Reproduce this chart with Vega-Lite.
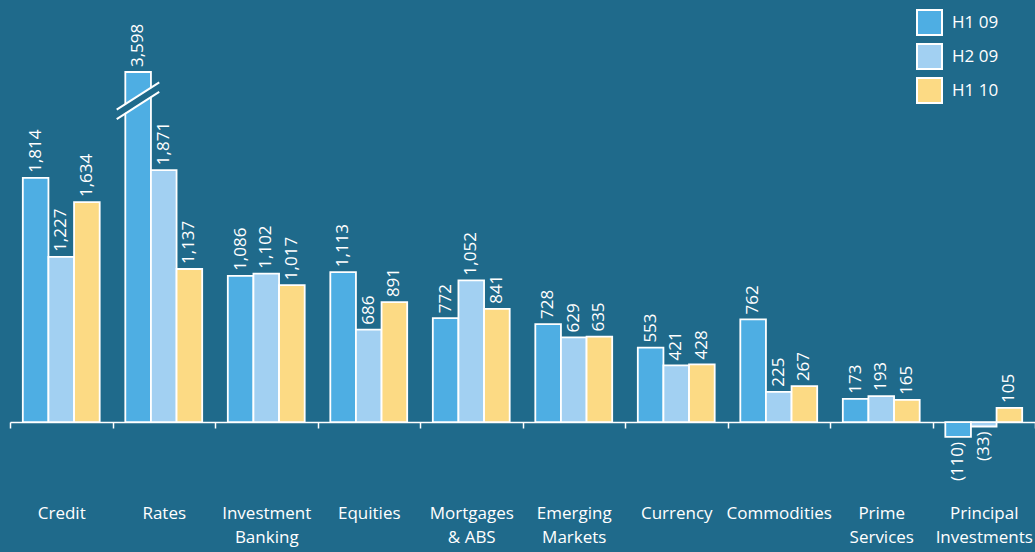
{
  "$schema": "https://vega.github.io/schema/vega-lite/v6.json",
  "width": 1025,
  "height": 377,
  "autosize": {"type": "none"},
  "padding": {"left": 10, "top": 72, "right": 0, "bottom": 103},
  "background": "#1F6A8B",
  "config": {"view": {"stroke": null}, "font": "Open Sans"},
  "data": {
    "values": [
      {"cat": "Credit", "series": "H1 09", "value": 1814},
      {"cat": "Credit", "series": "H2 09", "value": 1227},
      {"cat": "Credit", "series": "H1 10", "value": 1634},
      {"cat": "Rates", "series": "H1 09", "value": 3598},
      {"cat": "Rates", "series": "H2 09", "value": 1871},
      {"cat": "Rates", "series": "H1 10", "value": 1137},
      {"cat": "Investment Banking", "series": "H1 09", "value": 1086},
      {"cat": "Investment Banking", "series": "H2 09", "value": 1102},
      {"cat": "Investment Banking", "series": "H1 10", "value": 1017},
      {"cat": "Equities", "series": "H1 09", "value": 1113},
      {"cat": "Equities", "series": "H2 09", "value": 686},
      {"cat": "Equities", "series": "H1 10", "value": 891},
      {"cat": "Mortgages & ABS", "series": "H1 09", "value": 772},
      {"cat": "Mortgages & ABS", "series": "H2 09", "value": 1052},
      {"cat": "Mortgages & ABS", "series": "H1 10", "value": 841},
      {"cat": "Emerging Markets", "series": "H1 09", "value": 728},
      {"cat": "Emerging Markets", "series": "H2 09", "value": 629},
      {"cat": "Emerging Markets", "series": "H1 10", "value": 635},
      {"cat": "Currency", "series": "H1 09", "value": 553},
      {"cat": "Currency", "series": "H2 09", "value": 421},
      {"cat": "Currency", "series": "H1 10", "value": 428},
      {"cat": "Commodities", "series": "H1 09", "value": 762},
      {"cat": "Commodities", "series": "H2 09", "value": 225},
      {"cat": "Commodities", "series": "H1 10", "value": 267},
      {"cat": "Prime Services", "series": "H1 09", "value": 173},
      {"cat": "Prime Services", "series": "H2 09", "value": 193},
      {"cat": "Prime Services", "series": "H1 10", "value": 165},
      {"cat": "Principal Investments", "series": "H1 09", "value": -110},
      {"cat": "Principal Investments", "series": "H2 09", "value": -33},
      {"cat": "Principal Investments", "series": "H1 10", "value": 105}
    ]
  },
  "encoding": {
    "x": {
      "field": "cat",
      "type": "nominal",
      "sort": null,
      "scale": {"paddingInner": 0, "paddingOuter": 0},
      "axis": {
        "title": null,
        "labelAngle": 0,
        "labelColor": "white",
        "labelFontSize": 17,
        "labelFont": "Open Sans",
        "labelPadding": 77,
        "labelLineHeight": 24,
        "labelLimit": 300,
        "labelExpr": "!isString(datum.value) ? '' : datum.value == 'Mortgages & ABS' ? ['Mortgages', '& ABS'] : split(datum.value, ' ')",
        "domainColor": "white",
        "domainWidth": 1.5,
        "tickColor": "white",
        "tickSize": 6,
        "tickWidth": 1.5,
        "tickBand": "extent",
        "offset": -27
      }
    },
    "y": {
      "field": "value",
      "type": "quantitative",
      "scale": {"domain": [-200, 2600], "clamp": true, "nice": false, "zero": false},
      "axis": null
    }
  },
  "layer": [
    {
      "mark": {"type": "bar", "stroke": "white", "strokeWidth": 1.8},
      "encoding": {
        "xOffset": {"field": "series", "type": "nominal", "sort": ["H1 09", "H2 09", "H1 10"], "scale": {"paddingInner": 0, "paddingOuter": 0.5}},
        "color": {
          "field": "series",
          "type": "nominal",
          "sort": ["H1 09", "H2 09", "H1 10"],
          "scale": {"domain": ["H1 09", "H2 09", "H1 10"], "range": ["#4EAEE3", "#A2D0F2", "#FCDA84"]},
          "legend": {
            "title": null,
            "orient": "none",
            "legendX": 906,
            "legendY": -63,
            "padding": 0,
            "symbolType": "square",
            "symbolSize": 625,
            "symbolStrokeColor": "white",
            "symbolStrokeWidth": 2,
            "symbolOpacity": 1,
            "labelColor": "white",
            "labelFontSize": 17,
            "labelFont": "Open Sans",
            "labelOffset": 9,
            "rowPadding": 1
          }
        }
      }
    },
    {
      "transform": [{"filter": "datum.value >= 0"}],
      "mark": {"type": "text", "angle": 270, "align": "left", "baseline": "middle", "dx": 5, "color": "white", "fontSize": 17, "font": "Open Sans"},
      "encoding": {
        "xOffset": {"field": "series", "type": "nominal", "sort": ["H1 09", "H2 09", "H1 10"], "scale": {"paddingInner": 0, "paddingOuter": 0.5}},
        "text": {"field": "value", "type": "quantitative", "format": "(,d"}
      }
    },
    {
      "transform": [{"filter": "datum.value < 0"}],
      "mark": {"type": "text", "angle": 270, "align": "right", "baseline": "middle", "dx": -5, "color": "white", "fontSize": 17, "font": "Open Sans"},
      "encoding": {
        "xOffset": {"field": "series", "type": "nominal", "sort": ["H1 09", "H2 09", "H1 10"], "scale": {"paddingInner": 0, "paddingOuter": 0.5}},
        "text": {"field": "value", "type": "quantitative", "format": "(,d"}
      }
    },
    {
      "transform": [{"filter": "datum.cat == 'Rates' && datum.series == 'H1 09'"}],
      "mark": {"type": "rule", "color": "#1F6A8B", "strokeWidth": 7, "strokeCap": "butt"},
      "encoding": {
        "x": {"field": "cat", "type": "nominal", "sort": null, "bandPosition": 0.041},
        "x2": {"field": "cat", "bandPosition": 0.456},
        "y": {"datum": 2285},
        "y2": {"datum": 2488}
      }
    },
    {
      "transform": [{"filter": "datum.cat == 'Rates' && datum.series == 'H1 09'"}],
      "mark": {"type": "rule", "color": "white", "strokeWidth": 2, "strokeCap": "butt"},
      "encoding": {
        "x": {"field": "cat", "type": "nominal", "sort": null, "bandPosition": 0.041},
        "x2": {"field": "cat", "bandPosition": 0.456},
        "y": {"datum": 2320},
        "y2": {"datum": 2523}
      }
    },
    {
      "transform": [{"filter": "datum.cat == 'Rates' && datum.series == 'H1 09'"}],
      "mark": {"type": "rule", "color": "white", "strokeWidth": 2, "strokeCap": "butt"},
      "encoding": {
        "x": {"field": "cat", "type": "nominal", "sort": null, "bandPosition": 0.041},
        "x2": {"field": "cat", "bandPosition": 0.456},
        "y": {"datum": 2250},
        "y2": {"datum": 2453}
      }
    }
  ]
}
